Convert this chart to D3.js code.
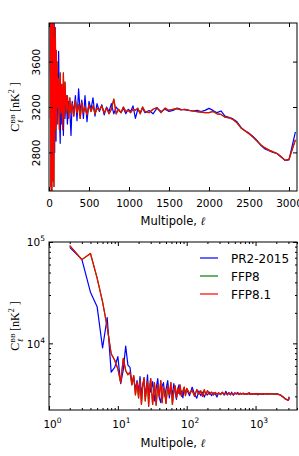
<!DOCTYPE html>
<html>
<head>
<meta charset="utf-8">
<script src="https://cdn.jsdelivr.net/npm/d3@7"></script>
<style>
  body { margin: 0; background: #fff; }
  text { font-family: "DejaVu Sans", sans-serif; }
</style>
</head>
<body>
<div id="chart"></div>
<script>
// multipoles (binned at high ell)
const ell = [2, 3, 4, 5, 6, 7, 8, 9, 10, 11, 12, 13, 14, 15, 16, 17, 18, 19, 20,
  21, 22, 23, 24, 25, 26, 27, 28, 29, 30, 32, 34, 36, 38, 40, 42, 44, 46, 48, 50,
  53, 56, 59, 62, 65, 68, 71, 74, 77, 80, 84, 88, 92, 96, 100,
  110, 120, 130, 140, 150, 160, 170, 180, 190, 200, 215, 230, 245, 260, 275, 290,
  310, 330, 350, 370, 390, 410, 430, 450, 475, 500, 525, 550, 575, 600,
  630, 660, 690, 720, 750, 780, 810, 840, 870, 900, 930, 960, 990, 1020, 1050,
  1080, 1110, 1140, 1170, 1200, 1250, 1300, 1350, 1400, 1450, 1500, 1550, 1600,
  1650, 1700, 1750, 1800, 1850, 1900, 1950, 2000, 2050, 2100, 2150, 2200, 2250,
  2300, 2350, 2400, 2450, 2500, 2550, 2600, 2650, 2700, 2750, 2800, 2850, 2900,
  2950, 3000, 3080];

// C_ell^BB [nK^2]
const pr2015 = [88500, 67400, 32000, 23000, 9000, 18000, 5200, 5800, 7400, 4000,
  5500, 9400, 6100, 5800, 4100, 4600, 3500, 4300, 3300,
  4700, 3100, 3900, 4400, 3000, 3700, 4900, 2900, 3800, 3300, 4200, 2700, 3600, 4500, 2900, 2600, 3800, 4100, 3000, 3500,
  4300, 2900, 3700, 3100, 4000, 3300, 2800, 3500, 3900, 3100, 3400, 2900, 3600, 3200, 3500,
  3050, 3690, 3150, 2880, 3400, 3050, 3300, 2950, 3250, 3100, 3300, 3050, 3250, 3180, 2950, 3250,
  3150, 3300, 3080, 3360, 3150, 3260, 3100, 3300, 3070, 3250, 3180, 3280, 3120, 3230,
  3160, 3220, 3130, 3200, 3160, 3230, 3140, 3200, 3170, 3150, 3190, 3140, 3180, 3160, 3210,
  3100, 3180, 3150, 3190, 3150, 3170, 3140, 3190, 3160, 3180, 3160, 3170, 3190,
  3180, 3175, 3170, 3165, 3170, 3160, 3170, 3188, 3170, 3150, 3165, 3120, 3110,
  3095, 3070, 3020, 2990, 2970, 2940, 2905, 2860, 2830, 2815, 2800, 2790, 2760,
  2730, 2735, 2980];

const ffp81 = [92000, 67000, 77000, 44000, 25600, 14500, 7900, 6800, 5600, 4100,
  7100, 5400, 4900, 5200, 3900, 4800, 3100, 4100, 2900,
  4300, 2500, 3800, 4600, 2700, 3500, 4200, 2400, 3700, 4500, 2500, 4100, 2450, 3900, 3000, 4300, 2600, 3700, 3300, 2550,
  3800, 3100, 4100, 2500, 3400, 3800, 2900, 3600, 3200, 3900, 3000, 3400, 3700, 3050, 3600,
  3200, 3450, 3000, 3500, 3150, 3400, 3000, 3500, 3100, 3420, 3150, 3300, 3100, 3280, 3150, 3230,
  3120, 3260, 3150, 3220, 3100, 3240, 3150, 3200, 3130, 3220, 3160, 3210, 3140, 3190,
  3170, 3210, 3150, 3190, 3140, 3180, 3270, 3140, 3180, 3150, 3200, 3160, 3170, 3150, 3180,
  3170, 3190, 3140, 3200, 3160, 3150, 3180, 3195, 3150, 3190, 3170, 3180, 3185,
  3175, 3180, 3170, 3165, 3160, 3155, 3150, 3150, 3160, 3140, 3135, 3110, 3105,
  3090, 3060, 3015, 2990, 2965, 2935, 2900, 2865, 2840, 2820, 2805, 2790, 2765,
  2730, 2740, 2910];

// FFP8 lies underneath FFP8.1 everywhere in the picture
const ffp8 = ffp81.slice();

const seriesNames = ['PR2-2015', 'FFP8', 'FFP8.1'];
const seriesColors = ['#0000ff', '#008000', '#ff0000'];
const seriesData = [pr2015, ffp8, ffp81];

const linTicks = [0, 500, 1000, 1500, 2000, 2500, 3000];
const linYTicks = [2800, 3200, 3600];

const W = 299, H = 456;
const svg = d3.select('#chart').append('svg')
  .attr('width', W).attr('height', H);

// ---------- top panel (linear) ----------
const x1 = d3.scaleLinear().domain([0, 3100]).range([49, 297]);
const y1 = d3.scaleLinear().domain([2460, 3940]).range([191, 23]);

// ---------- bottom panel (log-log) ----------
const x2 = d3.scaleLog().domain([1, 4000]).range([49, 297]);
const y2 = d3.scaleLog().domain([2200, 1e5]).range([410, 242]);

function drawLines(x, y, clipId) {
  const [x0, xa] = x.range();
  const [yb, yt] = y.range();
  svg.append('clipPath').attr('id', clipId)
    .append('rect').attr('x', x0).attr('y', yt)
    .attr('width', xa - x0).attr('height', yb - yt);

  const line = d3.line()
    .x(d => x(d[0]))
    .y(d => y(d[1]));

  const g = svg.append('g').attr('clip-path', `url(#${clipId})`);
  seriesData.forEach((s, i) => {
    g.append('path')
      .datum(d3.zip(ell, s))
      .attr('d', line)
      .attr('fill', 'none')
      .attr('stroke', seriesColors[i])
      .attr('stroke-width', 1.2)
      .attr('stroke-linejoin', 'round');
  });

  svg.append('rect')
    .attr('x', x0).attr('y', yt)
    .attr('width', xa - x0).attr('height', yb - yt)
    .attr('fill', 'none').attr('stroke', '#000').attr('stroke-width', 1);
}

function tickOnly(axis, tx, ty, size) {
  const g = svg.append('g')
    .attr('transform', `translate(${tx},${ty})`)
    .call(axis.tickSize(size).tickFormat(''));
  g.select('.domain').remove();
  g.selectAll('line').attr('stroke', '#000');
  return g;
}

function xLabel(yPos) {
  svg.append('text')
    .attr('x', 173).attr('y', yPos)
    .attr('text-anchor', 'middle')
    .style('font-size', '11.5px')
    .text('Multipole, ')
    .append('tspan').text('ℓ').style('font-style', 'italic')
    .style('font-family', 'DejaVu Serif');
}

function yLabel(cx, cy) {
  const t = svg.append('text')
    .attr('transform', `translate(${cx},${cy}) rotate(-90)`)
    .attr('text-anchor', 'middle')
    .style('font-family', '"Liberation Serif", serif')
    .style('font-size', '12px');
  t.append('tspan').text('C');
  t.append('tspan').text('BB').attr('dy', -4.5).style('font-size', '7px');
  t.append('tspan').text('ℓ').attr('dx', -9).attr('dy', 8)
    .style('font-size', '8px').style('font-style', 'italic');
  t.append('tspan').text('[nK').attr('dx', 8).attr('dy', -3.5);
  t.append('tspan').text('2').attr('dy', -5).style('font-size', '8px');
  t.append('tspan').text(' ]').attr('dy', 5);
}

// top panel
drawLines(x1, y1, 'clipTop');

let gx = svg.append('g').attr('transform', 'translate(0,191)')
  .call(d3.axisBottom(x1).tickValues(linTicks).tickSize(-4).tickFormat(d3.format('d')));
gx.select('.domain').remove();
gx.selectAll('text').attr('y', 16).attr('dy', 0).style('font-size', '10.5px').attr('fill', '#000');
tickOnly(d3.axisTop(x1).tickValues(linTicks), 0, 23, -4);

let gy = svg.append('g').attr('transform', 'translate(49,0)')
  .call(d3.axisLeft(y1).tickValues(linYTicks).tickSize(-4).tickFormat(d3.format('d')));
gy.select('.domain').remove();
gy.selectAll('text')
  .attr('x', 0).attr('dy', 0)
  .attr('transform', 'translate(-9,0) rotate(-90)')
  .attr('text-anchor', 'middle')
  .style('font-size', '10.5px').attr('fill', '#000');
tickOnly(d3.axisRight(y1).tickValues(linYTicks), 297, 0, -4);

xLabel(225);
yLabel(19, 107);

// bottom panel
drawLines(x2, y2, 'clipBottom');

const xMajor = [1, 10, 100, 1000];
const xMinor = x2.ticks().filter(v => !xMajor.includes(v));
const yMajor = [1e4, 1e5];
const yMinor = y2.ticks().filter(v => !yMajor.includes(v));

function powLabel(sel) {
  sel.text('').each(function (d) {
    const t = d3.select(this);
    t.append('tspan').text('10');
    t.append('tspan').text(Math.round(Math.log10(d)))
      .attr('dy', -5).style('font-size', '7.5px');
  });
}

let gx2 = svg.append('g').attr('transform', 'translate(0,410)')
  .call(d3.axisBottom(x2).tickValues(xMajor).tickSize(-4));
gx2.select('.domain').remove();
gx2.selectAll('text').attr('y', 18).attr('dy', 0).attr('dx', 3)
  .style('font-size', '10.5px').attr('fill', '#000').call(powLabel);
tickOnly(d3.axisBottom(x2).tickValues(xMinor), 0, 410, -2);
tickOnly(d3.axisTop(x2).tickValues(xMajor), 0, 242, -4);
tickOnly(d3.axisTop(x2).tickValues(xMinor), 0, 242, -2);

let gy2 = svg.append('g').attr('transform', 'translate(49,0)')
  .call(d3.axisLeft(y2).tickValues(yMajor).tickSize(-4));
gy2.select('.domain').remove();
gy2.selectAll('text').attr('x', -4).attr('dy', '0.35em')
  .style('font-size', '10.5px').attr('fill', '#000').call(powLabel);
tickOnly(d3.axisLeft(y2).tickValues(yMinor), 49, 0, -2);
tickOnly(d3.axisRight(y2).tickValues(yMajor), 297, 0, -4);
tickOnly(d3.axisRight(y2).tickValues(yMinor), 297, 0, -2);

xLabel(447);
yLabel(19, 326);

// legend
const legend = svg.append('g').attr('transform', 'translate(200,258)');
seriesNames.forEach((name, i) => {
  const row = legend.append('g').attr('transform', `translate(0,${i * 18})`);
  row.append('line').attr('x1', 0).attr('x2', 18).attr('y1', 0).attr('y2', 0)
    .attr('stroke', seriesColors[i]).attr('stroke-width', 1.2);
  row.append('text').attr('x', 31).attr('y', 4.5)
    .style('font-size', '12px').text(name);
});
</script>
</body>
</html>
